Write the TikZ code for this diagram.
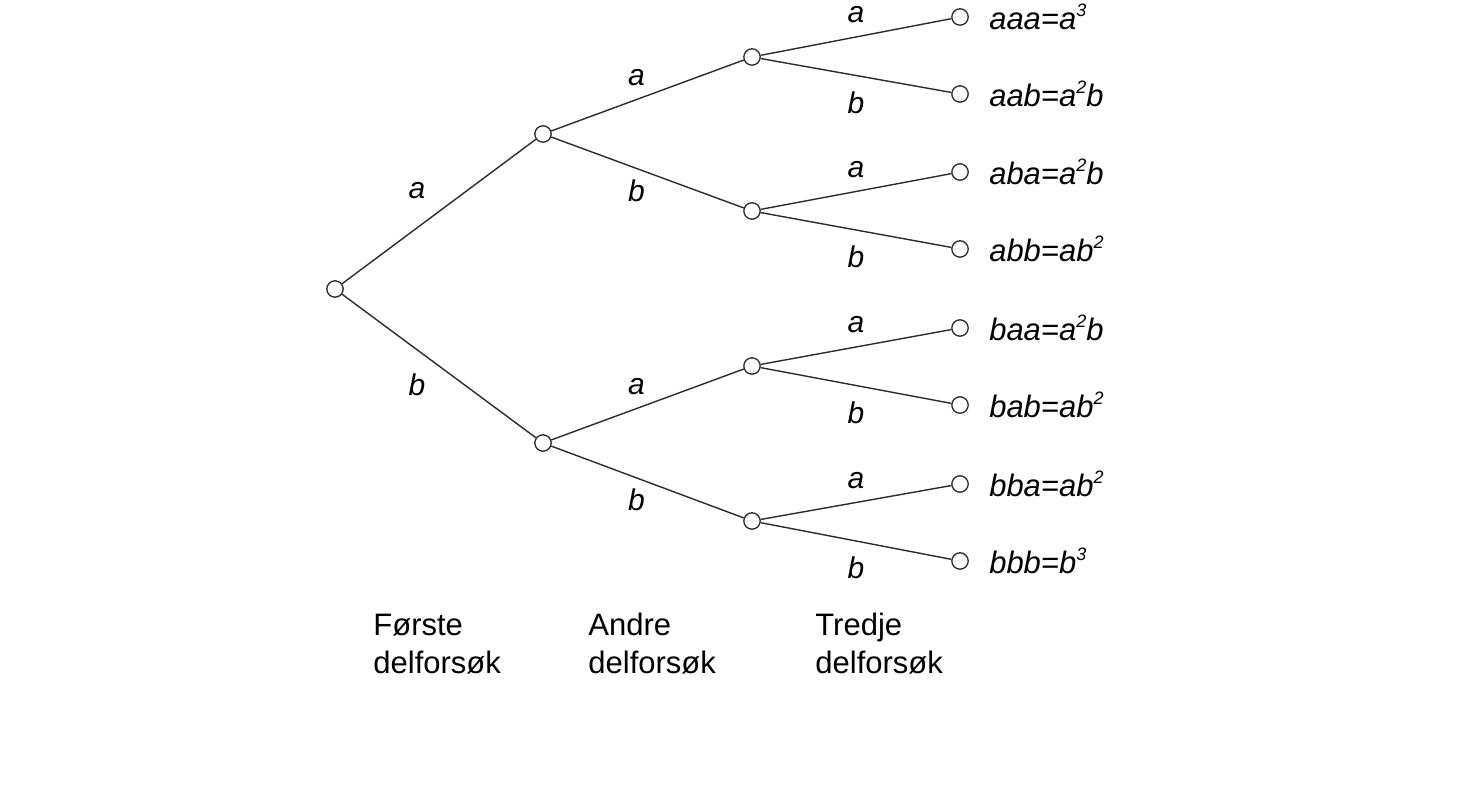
\documentclass[tikz,border=0pt]{standalone}
\usepackage{fontspec}
\setmainfont{Liberation Sans}
\usepackage{tikz}
\usetikzlibrary{positioning}
\definecolor{TRE_LINE}{HTML}{2b2b2b}
\newcommand{\hoy}[1]{\raisebox{0.42em}{\fontsize{9}{9}\selectfont #1}}
\tikzset{
  knot/.style={
    circle, draw=TRE_LINE, fill=white, line width=0.65pt,
    minimum size=8.2pt, inner sep=0pt},
  gren/.style={draw=TRE_LINE, line width=0.7pt},
  lbl/.style={font=\fontsize{15}{18}\selectfont\itshape, inner sep=0pt},
  la1/.style={lbl, midway, xshift=-11pt, yshift=10.5pt},
  lb1/.style={lbl, midway, xshift=-11pt, yshift=-9.5pt},
  la2/.style={lbl, midway, xshift=-5.5pt, yshift=9pt},
  lb2/.style={lbl, midway, xshift=-5.5pt, yshift=-9pt},
  la3/.style={lbl, midway, yshift=11pt},
  lb3/.style={lbl, midway, yshift=-13.5pt},
  utfall/.style={font=\fontsize{15.5}{18}\selectfont\itshape,
    inner sep=0pt, anchor=west},
  trinn/.style={font=\fontsize{15.5}{19}\selectfont,
    align=left, inner sep=0pt, anchor=base west},
}

\begin{document}
\begin{tikzpicture}[x=0.5pt, y=-0.5pt]

  \useasboundingbox (0,0) rectangle (1470,795);

  % rot og forste delforsok
  \node[knot] (r)   at (335,289) {};
  \node[knot] (a)   at (543,134) {};
  \node[knot] (b)   at (543,443) {};

  % andre delforsok
  \node[knot] (aa)  at (752,57)  {};
  \node[knot] (ab)  at (752,211) {};
  \node[knot] (ba)  at (752,366) {};
  \node[knot] (bb)  at (752,521) {};

  % tredje delforsok
  \node[knot] (aaa) at (960,17)  {};
  \node[knot] (aab) at (960,94)  {};
  \node[knot] (aba) at (960,172) {};
  \node[knot] (abb) at (960,249) {};
  \node[knot] (baa) at (960,328) {};
  \node[knot] (bab) at (960,405) {};
  \node[knot] (bba) at (960,484) {};
  \node[knot] (bbb) at (960,561) {};

  \node[utfall, right=10pt of aaa] (taaa) {aaa=a\hoy{3}};
  \node[utfall, right=10pt of aab] (taab) {aab=a\hoy{2}b};
  \node[utfall, right=10pt of aba] (taba) {aba=a\hoy{2}b};
  \node[utfall, right=10pt of abb] (tabb) {abb=ab\hoy{2}};
  \node[utfall, right=10pt of baa] (tbaa) {baa=a\hoy{2}b};
  \node[utfall, right=10pt of bab] (tbab) {bab=ab\hoy{2}};
  \node[utfall, right=10pt of bba] (tbba) {bba=ab\hoy{2}};
  \node[utfall, right=10pt of bbb] (tbbb) {bbb=b\hoy{3}};

  \draw[gren] (r)  -- node[la1]{a} (a);
  \draw[gren] (r)  -- node[lb1]{b} (b);
  \draw[gren] (a)  -- node[la2]{a} (aa);
  \draw[gren] (a)  -- node[lb2]{b} (ab);
  \draw[gren] (b)  -- node[la2]{a} (ba);
  \draw[gren] (b)  -- node[lb2]{b} (bb);
  \draw[gren] (aa) -- node[la3]{a} (aaa);
  \draw[gren] (aa) -- node[lb3]{b} (aab);
  \draw[gren] (ab) -- node[la3]{a} (aba);
  \draw[gren] (ab) -- node[lb3]{b} (abb);
  \draw[gren] (ba) -- node[la3]{a} (baa);
  \draw[gren] (ba) -- node[lb3]{b} (bab);
  \draw[gren] (bb) -- node[la3]{a} (bba);
  \draw[gren] (bb) -- node[lb3]{b} (bbb);

  \node[trinn] (d1) at (373,673) {Første\\delforsøk};
  \node[trinn] (d2) at (588,673) {Andre\\delforsøk};
  \node[trinn] (d3) at (815,673) {Tredje\\delforsøk};

\end{tikzpicture}
\end{document}
